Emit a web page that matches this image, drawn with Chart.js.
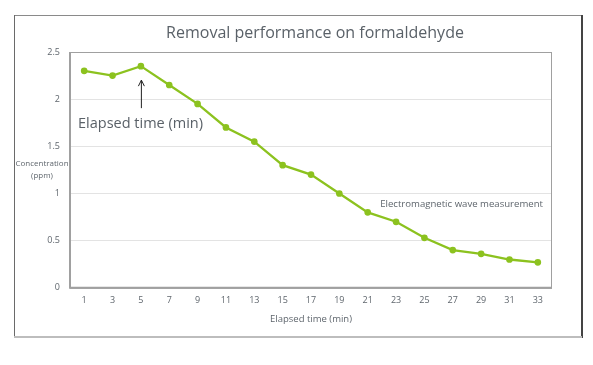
<!DOCTYPE html>
<html>
<head>
<meta charset="utf-8">
<script src="https://cdn.jsdelivr.net/npm/chart.js@4"></script>
<style>
  html, body { margin: 0; padding: 0; background: #fff; }
  #wrap { width: 593px; height: 365px; }
</style>
</head>
<body>
<div id="wrap"><canvas id="chart" width="593" height="365"></canvas></div>
<script>
// Data
const minutes = ['1', '3', '5', '7', '9', '11', '13', '15', '17', '19', '21', '23', '25', '27', '29', '31', '33'];
const concentration = [2.3, 2.25, 2.35, 2.15, 1.95, 1.7, 1.55, 1.3, 1.2, 1.0, 0.8, 0.7, 0.53, 0.4, 0.36, 0.3, 0.27];
const yTicks = [0, 0.5, 1, 1.5, 2, 2.5];

const textGray = '#5f666d';
const fontFamily = '"Open Sans", "Noto Sans", sans-serif';

// Frame, plot border, title and annotations
const decorations = {
  id: 'decorations',
  beforeDraw(chart) {
    const ctx = chart.ctx;
    ctx.save();
    ctx.fillStyle = '#fff';
    ctx.fillRect(0, 0, chart.width, chart.height);
    // outer frame
    ctx.lineWidth = 1;
    ctx.strokeStyle = '#8a8a8a';
    ctx.beginPath(); ctx.moveTo(14, 15.5); ctx.lineTo(582, 15.5); ctx.stroke();
    ctx.strokeStyle = '#6a6a6a';
    ctx.beginPath(); ctx.moveTo(14.5, 15); ctx.lineTo(14.5, 337); ctx.stroke();
    ctx.lineWidth = 2;
    ctx.strokeStyle = '#444';
    ctx.beginPath(); ctx.moveTo(582, 15); ctx.lineTo(582, 338); ctx.stroke();
    ctx.strokeStyle = '#bdbdbd';
    ctx.beginPath(); ctx.moveTo(14, 337); ctx.lineTo(582, 337); ctx.stroke();
    ctx.restore();
  },
  afterDatasetsDraw(chart) {
    const ctx = chart.ctx;
    const a = chart.chartArea;
    const xs = chart.scales.x, ys = chart.scales.y;
    ctx.save();
    // plot border
    ctx.strokeStyle = '#a0a0a0';
    ctx.lineWidth = 1;
    ctx.strokeRect(a.left + 0.5, a.top + 0.5, a.right - a.left - 1, a.bottom - a.top);
    ctx.lineWidth = 2;
    ctx.beginPath();
    ctx.moveTo(a.left, a.top); ctx.lineTo(a.left, a.bottom); ctx.lineTo(a.right, a.bottom);
    ctx.stroke();

    // title
    ctx.fillStyle = '#5a6168';
    ctx.textAlign = 'center';
    ctx.textBaseline = 'middle';
    ctx.font = '16px ' + fontFamily;
    ctx.fillText('Removal performance on formaldehyde', 315, 33);

    // y axis title (horizontal, two lines)
    ctx.font = '8px ' + fontFamily;
    ctx.fillStyle = textGray;
    ctx.fillText('Concentration', 42, 164);
    ctx.fillText('(ppm)', 42, 176);

    // arrow pointing at the 5 min point
    const px = xs.getPixelForValue(2);
    const py = ys.getPixelForValue(concentration[2]);
    ctx.strokeStyle = '#222';
    ctx.lineWidth = 1;
    ctx.beginPath();
    ctx.moveTo(px + 0.5, py + 42);
    ctx.lineTo(px + 0.5, py + 14);
    ctx.moveTo(px - 2.5, py + 20);
    ctx.lineTo(px + 0.5, py + 14);
    ctx.lineTo(px + 3.5, py + 20);
    ctx.stroke();

    ctx.fillStyle = '#5a6168';
    ctx.font = '14.5px ' + fontFamily;
    ctx.textAlign = 'left';
    ctx.fillText('Elapsed time (min)', 78, 124);

    // series label
    ctx.font = '9.6px ' + fontFamily;
    ctx.fillStyle = textGray;
    ctx.textAlign = 'right';
    ctx.fillText('Electromagnetic wave measurement', 543, 204);
    ctx.restore();
  }
};

const ctx = document.getElementById('chart').getContext('2d');
new Chart(ctx, {
  type: 'line',
  data: {
    labels: minutes,
    datasets: [{
      label: 'Electromagnetic wave measurement',
      data: concentration,
      borderColor: '#8cc21f',
      backgroundColor: '#8cc21f',
      borderWidth: 2.3,
      pointRadius: 2.2,
      pointHoverRadius: 2.2,
      tension: 0
    }]
  },
  options: {
    responsive: false,
    animation: false,
    events: [],
    layout: {
      padding: { top: 52, right: 41, bottom: 40, left: 0 }
    },
    plugins: {
      legend: { display: false },
      title: { display: false },
      tooltip: { enabled: false }
    },
    scales: {
      x: {
        offset: true,
        grid: { display: false, drawTicks: false },
        border: { display: false },
        ticks: {
          padding: 7,
          color: textGray,
          font: { family: fontFamily, size: 9 },
          maxRotation: 0,
          autoSkip: false
        },
        title: {
          display: true,
          text: 'Elapsed time (min)',
          color: textGray,
          font: { family: fontFamily, size: 9.5 },
          padding: { top: 1, bottom: 0 }
        }
      },
      y: {
        min: 0,
        max: 2.5,
        afterFit(scale) { scale.width = 70; },
        afterBuildTicks(scale) { scale.ticks = yTicks.map(v => ({ value: v })); },
        grid: { color: '#e3e3e3', lineWidth: 1, drawTicks: false },
        border: { display: false },
        ticks: {
          padding: 10,
          color: textGray,
          font: { family: fontFamily, size: 9 },
          callback: v => String(v)
        }
      }
    }
  },
  plugins: [decorations]
});
</script>
</body>
</html>
